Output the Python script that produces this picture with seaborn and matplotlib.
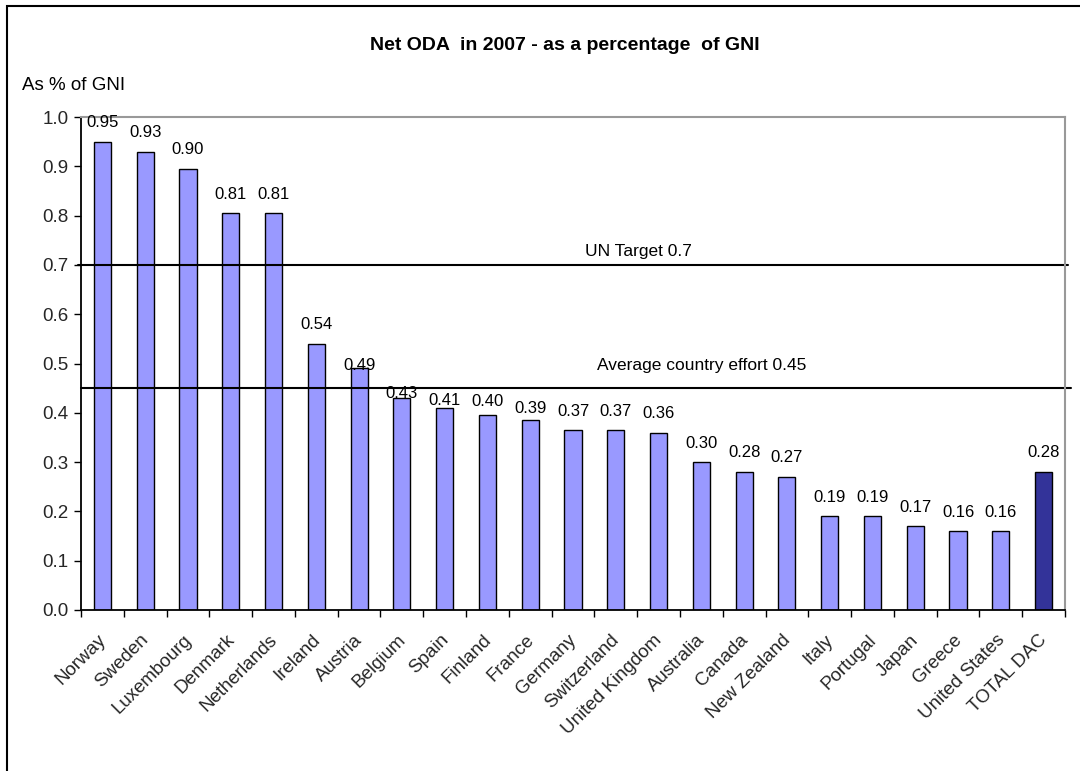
import matplotlib
matplotlib.use("Agg")
import matplotlib.pyplot as plt
import seaborn as sns
from matplotlib.patches import Rectangle
from matplotlib.ticker import FixedLocator
from matplotlib.transforms import ScaledTranslation

countries = ["Norway", "Sweden", "Luxembourg", "Denmark", "Netherlands", "Ireland",
             "Austria", "Belgium", "Spain", "Finland", "France", "Germany",
             "Switzerland", "United Kingdom", "Australia", "Canada", "New Zealand",
             "Italy", "Portugal", "Japan", "Greece", "United States", "TOTAL DAC"]
values = [0.95, 0.93, 0.895, 0.805, 0.805, 0.54, 0.49, 0.43, 0.41, 0.395, 0.385,
          0.365, 0.365, 0.36, 0.30, 0.28, 0.27, 0.19, 0.19, 0.17, 0.16, 0.16, 0.28]
labels = ["0.95", "0.93", "0.90", "0.81", "0.81", "0.54", "0.49", "0.43", "0.41",
          "0.40", "0.39", "0.37", "0.37", "0.36", "0.30", "0.28", "0.27", "0.19",
          "0.19", "0.17", "0.16", "0.16", "0.28"]
un_target = 0.7
avg_effort = 0.45

sns.set_theme(style="white")
plt.rcParams['font.family'] = ['Liberation Sans', 'DejaVu Sans']

fig = plt.figure(figsize=(10.8, 7.71), dpi=100)
ax = fig.add_axes([81/1080, 1-610/771, (1065-81)/1080, (610-117)/771])

colors = ["#9999FF"] * (len(countries) - 1) + ["#333399"]
sns.barplot(x=countries, y=values, hue=countries, palette=colors, legend=False,
            width=0.4, edgecolor="black", linewidth=1.0, ax=ax, saturation=1)

ax.set_xlim(-0.5, len(countries) - 0.5)
ax.set_ylim(0, 1.0)
ax.set_yticks([i/10 for i in range(11)])
ax.set_yticklabels([f"{i/10:.1f}" for i in range(11)], fontsize=13.5)
ax.set_xticks(range(len(countries)))
ax.set_xticklabels(countries, rotation=45, ha="right", rotation_mode="anchor", fontsize=13.5)
ax.xaxis.set_minor_locator(FixedLocator([i + 0.5 for i in range(-1, len(countries))]))
ax.tick_params(axis="x", which="major", length=0, pad=6)
ax.tick_params(axis="x", which="minor", length=5, width=1, color="black", direction="out", bottom=True)
ax.tick_params(axis="y", length=5, width=1, color="black", direction="out", left=True, pad=4)
ax.set_xlabel("")
ax.set_ylabel("")
shift = ScaledTranslation(-5/100, -13/100, fig.dpi_scale_trans)
for lab in ax.get_xticklabels():
    lab.set_transform(lab.get_transform() + shift)

for s in ["left", "bottom"]:
    ax.spines[s].set_color("black")
    ax.spines[s].set_linewidth(1.3)
for s in ["top", "right"]:
    ax.spines[s].set_color("#999999")
    ax.spines[s].set_linewidth(1.5)

ax.axhline(un_target, color="black", linewidth=1.5, xmin=-0.003, xmax=1.003, clip_on=False)
ax.axhline(avg_effort, color="black", linewidth=1.5, xmin=0, xmax=1.006, clip_on=False)
ax.text(0.566, un_target + 0.012, "UN Target 0.7", transform=ax.get_yaxis_transform(),
        ha="center", va="bottom", fontsize=12.5, color="black")
ax.text(0.631, avg_effort + 0.03, "Average country effort 0.45", transform=ax.get_yaxis_transform(),
        ha="center", va="bottom", fontsize=12.5, color="black")

# label offsets (points): labels near the average line sit lower
nudge = {"Austria": 2.2, "Belgium": 2.9, "Spain": 5.0, "Finland": 10.0, "France": 8.6}
for i, (c, v, lab) in enumerate(zip(countries, values, labels)):
    off = nudge.get(c, 13.7)
    ax.annotate(lab, (i, v), xytext=(0, off), textcoords="offset points",
                ha="center", va="center", fontsize=12, color="black")

fig.text(565/1080, 1-45/771, "Net ODA  in 2007 - as a percentage  of GNI", ha="center",
         va="center", fontsize=14, fontweight="bold", color="black")
fig.text(22/1080, 1-85/771, "As % of GNI", ha="left", va="center", fontsize=13.5, color="black")

fig.patches.append(Rectangle((7/1080, -0.1), 1.2, 1-6/771 + 0.1, transform=fig.transFigure,
                             fill=False, edgecolor="black", linewidth=1.5))

fig.savefig("out.png", dpi=100)
